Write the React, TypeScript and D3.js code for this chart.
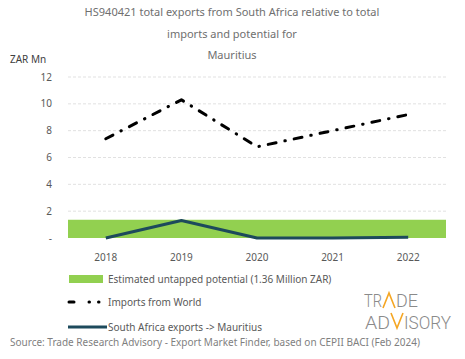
import { useEffect } from 'react';
import * as d3 from 'd3';

const years = ['2018', '2019', '2020', '2021', '2022'];
const importsFromWorld = [7.4, 10.3, 6.8, 8.0, 9.2];
const saExports = [0, 1.3, 0, 0, 0.05];
const untappedPotential = 1.36;
const yTicks = [0, 2, 4, 6, 8, 10, 12];

const titleLines = [
  'HS940421 total exports from South Africa relative to total',
  'imports and potential for',
  'Mauritius',
];

export default function App() {
  const width = 465;
  const height = 359;
  const margin = { left: 68, right: 19, top: 77, bottom: 121 };

  useEffect(() => {
    document.body.style.margin = '0';
  }, []);

  const x = d3.scaleBand<string>()
    .domain(years)
    .range([margin.left, width - margin.right]);

  const y = d3.scaleLinear()
    .domain([0, 12])
    .range([height - margin.bottom, margin.top]);

  const cx = (d: string) => (x(d) ?? 0) + x.bandwidth() / 2;

  const line = d3.line<number>()
    .x((_, i) => cx(years[i]))
    .y(d => y(d));

  const font = 'Noto Sans, sans-serif';
  const grey = '#8a8a8a';
  const orange = '#f5a623';

  return (
    <svg width={width} height={height} viewBox={`0 0 ${width} ${height}`}
      style={{ display: 'block', background: '#fff', fontFamily: font }}>
      {/* title */}
      {titleLines.map((t, i) => (
        <text key={t} x={232} y={16 + i * 21.5} textAnchor="middle"
          fontSize={11} fill="#6f6f6f">{t}</text>
      ))}
      <text x={10} y={63} fontSize={10} fill="#404040">ZAR Mn</text>

      {/* gridlines */}
      {yTicks.filter(t => t > 0).map(t => (
        <line key={t} x1={margin.left} x2={width - margin.right} y1={y(t)} y2={y(t)}
          stroke="#d9d9d9" strokeWidth={0.8} strokeDasharray="3 2" />
      ))}
      {/* y tick labels */}
      {yTicks.map(t => (
        <text key={t} x={52} y={y(t)} dy="0.35em" textAnchor="end"
          fontSize={10} fill="#595959">{t === 0 ? '-' : t}</text>
      ))}

      {/* untapped potential band */}
      <rect x={margin.left} width={width - margin.right - margin.left}
        y={y(untappedPotential)} height={y(0) - y(untappedPotential)} fill="#92d050" />

      {/* imports from world */}
      <path d={line(importsFromWorld) ?? ''} fill="none" stroke="#000" strokeWidth={3}
        strokeDasharray="8 9 0.5 9" strokeLinecap="round" strokeLinejoin="round" />

      {/* SA exports */}
      <path d={line(saExports) ?? ''} fill="none" stroke="#1d4a5c" strokeWidth={3}
        strokeLinejoin="round" />

      {/* x labels */}
      {years.map(d => (
        <text key={d} x={cx(d)} y={257} dy="0.35em" textAnchor="middle"
          fontSize={10} fill="#595959">{d}</text>
      ))}

      {/* legend */}
      <rect x={69} y={275} width={34} height={8} fill="#92d050" />
      <text x={108} y={279} dy="0.35em" fontSize={10} fill="#595959">
        Estimated untapped potential (1.36 Million ZAR)
      </text>
      <line x1={69} x2={107} y1={302} y2={302} stroke="#000" strokeWidth={3}
        strokeLinecap="round" strokeDasharray="5 15 0.5 9 0.5 20" />
      <text x={108} y={302} dy="0.35em" fontSize={10} fill="#595959">Imports from World</text>
      <line x1={68} x2={107} y1={327} y2={327} stroke="#1d4a5c" strokeWidth={3} />
      <text x={108} y={327} dy="0.35em" fontSize={10} fill="#595959">South Africa exports -&gt; Mauritius</text>

      {/* logo */}
      <g fontFamily="Roboto, sans-serif" fontWeight={300} fontSize={18} fill={grey}>
        <text x={364} y={307} textLength={18} lengthAdjust="spacingAndGlyphs">TR</text>
        <path d="M383,308 L389,293 L395,308" fill="none" stroke={orange} strokeWidth={1.6} />
        <text x={396} y={307} textLength={22} lengthAdjust="spacingAndGlyphs">DE</text>
        <text x={365} y={329} textLength={25} lengthAdjust="spacingAndGlyphs">AD</text>
        <path d="M391,313 L397,328 L403,313" fill="none" stroke={orange} strokeWidth={1.6} />
        <text x={404} y={329} textLength={47} lengthAdjust="spacingAndGlyphs">ISORY</text>
      </g>

      {/* source */}
      <text x={10} y={342} dy="0.35em" fontSize={10} fill="#7f7f7f">
        Source: Trade Research Advisory - Export Market Finder, based on CEPII BACI (Feb 2024)
      </text>
    </svg>
  );
}
